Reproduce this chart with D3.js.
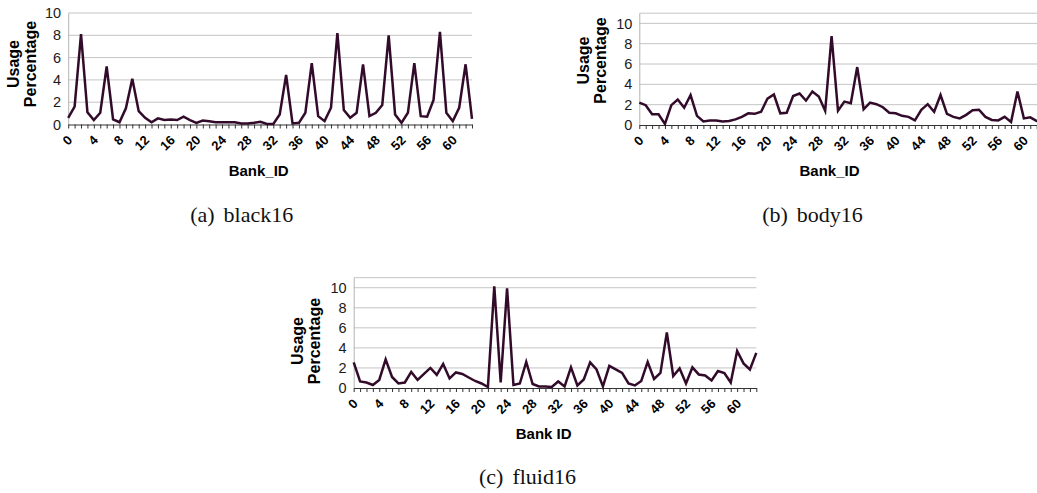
<!DOCTYPE html>
<html>
<head>
<meta charset="utf-8">
<script src="https://cdn.jsdelivr.net/npm/d3@7"></script>
<style>
  body { margin: 0; background: #fff; }
  svg { display: block; }
</style>
</head>
<body>
<div id="chart"></div>
<script>
// bank ids on the x axis, labels every 4th one
const bankIds = d3.range(64);
const xTickLabels = [0, 4, 8, 12, 16, 20, 24, 28, 32, 36, 40, 44, 48, 52, 56, 60];
const yTicks = [0, 2, 4, 6, 8, 10];

// usage percentage per bank
const black16 = [0.6, 1.6, 8.1, 1.1, 0.4, 1.05, 5.2, 0.45, 0.2, 1.45, 4.1, 1.2, 0.6, 0.2, 0.55, 0.4,
  0.45, 0.4, 0.7, 0.4, 0.15, 0.35, 0.3, 0.2, 0.2, 0.2, 0.2, 0.1, 0.1, 0.15, 0.25, 0.05,
  0.05, 0.9, 4.45, 0.1, 0.15, 1.05, 5.5, 0.75, 0.3, 1.5, 8.2, 1.3, 0.6, 1.05, 5.4, 0.75,
  1.05, 1.75, 8.0, 0.9, 0.15, 1.05, 5.5, 0.75, 0.7, 2.2, 8.3, 1.05, 0.3, 1.5, 5.4, 0.5];
const body16 = [2.2, 1.95, 1.05, 1.05, 0.1, 1.95, 2.5, 1.7, 2.95, 0.9, 0.35, 0.45, 0.45, 0.35, 0.4, 0.55,
  0.8, 1.15, 1.1, 1.3, 2.6, 3.0, 1.15, 1.2, 2.85, 3.1, 2.4, 3.3, 2.8, 1.4, 8.75, 1.4,
  2.3, 2.15, 5.7, 1.55, 2.2, 2.05, 1.75, 1.2, 1.15, 0.9, 0.8, 0.45, 1.5, 2.05, 1.3, 2.95,
  1.1, 0.8, 0.65, 1.0, 1.45, 1.5, 0.8, 0.5, 0.45, 0.8, 0.3, 3.3, 0.65, 0.75, 0.4, 0.3];
const fluid16 = [2.55, 0.65, 0.55, 0.3, 0.8, 2.85, 1.1, 0.45, 0.55, 1.6, 0.8, 1.4, 2.0, 1.3, 2.4, 0.95,
  1.55, 1.4, 1.05, 0.7, 0.45, 0.1, 10.15, 0.55, 9.95, 0.3, 0.45, 2.6, 0.4, 0.15, 0.15, 0.1,
  0.65, 0.15, 2.05, 0.25, 0.85, 2.55, 1.85, 0.15, 2.2, 1.85, 1.5, 0.45, 0.25, 0.7, 2.6, 0.9,
  1.5, 5.55, 1.2, 1.95, 0.45, 2.05, 1.35, 1.25, 0.75, 1.7, 1.5, 0.55, 3.7, 2.45, 1.85, 3.5];

const sans = "'Liberation Sans', Arial, sans-serif";
const serif = "'Liberation Serif', 'Times New Roman', serif";
const lineColor = '#330b2a';

const panels = [
  { data: black16, tag: '(a)', name: 'black16', xTitle: 'Bank_ID', yMax: 10,
    x0: 68.2, x1: 472, top: 13, bottom: 124.5,
    usageX: 19, percX: 35.5, yTitleY: 64, xTitleX: 258.7, xTitleY: 176, capX: 241.7, capY: 221.7 },
  { data: body16, tag: '(b)', name: 'body16', xTitle: 'Bank_ID', yMax: 11,
    x0: 639.3, x1: 1043.1, top: 13.2, bottom: 125,
    usageX: 589, percX: 605.7, yTitleY: 60.5, xTitleX: 829.5, xTitleY: 176, capX: 812.5, capY: 221.7 },
  { data: fluid16, tag: '(c)', name: 'fluid16', xTitle: 'Bank ID', yMax: 11,
    x0: 353.7, x1: 756.3, top: 277.7, bottom: 388,
    usageX: 302.5, percX: 320, yTitleY: 341, xTitleX: 543.7, xTitleY: 439.3, capX: 527.5, capY: 484 }
];

const svg = d3.select('#chart').append('svg')
  .attr('width', 1037).attr('height', 493);

panels.forEach(p => {
  const x = d3.scaleLinear().domain([0, 63]).range([p.x0, p.x1]);
  const y = d3.scaleLinear().domain([0, p.yMax]).range([p.bottom, p.top]);
  const g = svg.append('g');

  // horizontal grid, plus the frame top when the axis runs past 10
  const grid = yTicks.filter(d => d > 0);
  if (p.yMax > 10) grid.push(p.yMax);
  g.append('g').selectAll('line').data(grid).join('line')
    .attr('x1', p.x0).attr('x2', p.x1)
    .attr('y1', d => y(d)).attr('y2', d => y(d))
    .attr('stroke', '#c4c4c4').attr('stroke-width', 1);

  const yAxis = g.append('g').attr('transform', `translate(${p.x0},0)`)
    .call(d3.axisLeft(y).tickValues(yTicks).tickSize(0).tickSizeOuter(0).tickPadding(7));
  yAxis.select('.domain').attr('stroke', '#b3b3b3');
  yAxis.selectAll('text').attr('font-family', sans).attr('font-size', 14.5).attr('fill', '#1a1a1a');

  const xAxis = g.append('g').attr('transform', `translate(0,${p.bottom})`)
    .call(d3.axisBottom(x).tickValues(bankIds).tickSize(4).tickSizeOuter(0)
      .tickFormat(d => xTickLabels.includes(d) ? d : ''));
  xAxis.select('.domain').attr('stroke', '#333');
  xAxis.selectAll('.tick line').attr('stroke', '#333');
  xAxis.selectAll('text')
    .attr('font-family', sans).attr('font-size', 13).attr('font-weight', 'bold').attr('fill', '#000')
    .attr('text-anchor', 'end').attr('y', 0).attr('dy', 0)
    .attr('transform', 'translate(4.5,16.5) rotate(-45)');

  g.append('path').datum(p.data)
    .attr('fill', 'none').attr('stroke', lineColor).attr('stroke-width', 2.5)
    .attr('d', d3.line().x((d, i) => x(bankIds[i])).y(d => y(d)));

  // axis titles
  [['Usage', p.usageX], ['Percentage', p.percX]].forEach(([t, tx]) => {
    g.append('text').text(t)
      .attr('transform', `translate(${tx},${p.yTitleY}) rotate(-90)`)
      .attr('text-anchor', 'middle')
      .attr('font-family', sans).attr('font-size', 16).attr('font-weight', 'bold');
  });
  g.append('text').text(p.xTitle)
    .attr('x', p.xTitleX).attr('y', p.xTitleY).attr('text-anchor', 'middle')
    .attr('font-family', sans).attr('font-size', 15).attr('font-weight', 'bold');

  // sub-figure caption
  const cap = svg.append('text')
    .attr('x', p.capX).attr('y', p.capY).attr('text-anchor', 'middle')
    .attr('font-family', serif).attr('font-size', 22).attr('fill', '#111');
  cap.append('tspan').text(p.tag);
  cap.append('tspan').attr('dx', 9).text(p.name);
});
</script>
</body>
</html>
